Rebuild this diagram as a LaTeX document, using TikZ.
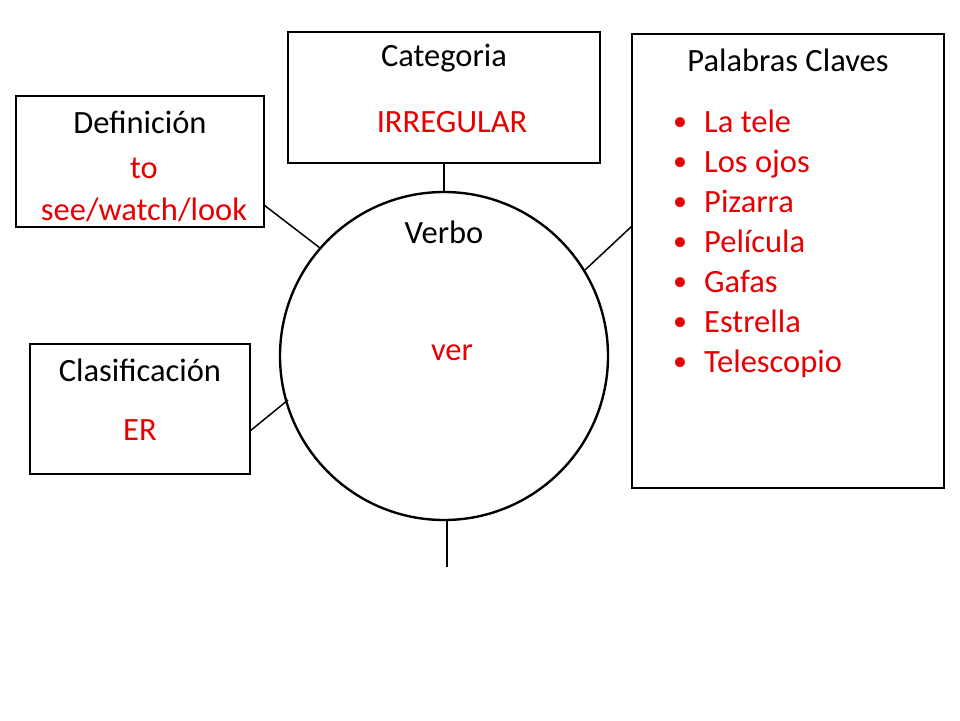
\documentclass[tikz,border=0pt]{standalone}
\usepackage{fontspec}
\setmainfont{Carlito}
\definecolor{txtred}{RGB}{230,0,0}
\begin{document}
\begin{tikzpicture}[x=1pt,y=-1pt,
  box/.style={draw,line width=1.2pt},
  lbl/.style={font=\fontsize{32.5}{38}\selectfont,anchor=center},
  red/.style={lbl,text=txtred},
  conn/.style={line width=1.5pt}]
\useasboundingbox (0,0) rectangle (960,720);
\draw[box] (288,32) rectangle (600,163);
\draw[box] (16,96) rectangle (264,227);
\draw[box] (30,344) rectangle (250,474);
\draw[box] (632,34) rectangle (944,488);
\node[draw,circle,line width=2.4pt,minimum size=328pt,inner sep=0pt] (c) at (444,356) {};
\node[lbl] (t1) at (444,58) {Categoria};
\node[red] (r1) at (452,122) {IRREGULAR};
\node[lbl] (t2) at (140,122) {Definición};
\node[red,align=center,font=\fontsize{32.5}{42}\selectfont] (r2) at (144,190) {to\\see/watch/look};
\node[lbl] (t3) at (140,370) {Clasificación};
\node[red] (r3) at (140,430) {ER};
\node[lbl] (t4) at (788,60) {Palabras Claves};
\node[lbl] (t5) at (444,232) {Verbo};
\node[red] (r5) at (452,353) {ver};
\foreach \w [count=\i] in {La tele,Los ojos,Pizarra,Película,Gafas,Estrella,Telescopio}{
  \node[red,anchor=base west,inner sep=0pt] (k\i) at (704,132+40*\i-40) {\w};
  \node[text=txtred,font=\fontsize{28}{34}\selectfont,anchor=base,inner sep=0pt] (b\i) at (680,130+40*\i-40) {•};
}
\coordinate (a1) at (444,163); \coordinate (a2) at (444,192);
\coordinate (d1) at (264,205); \coordinate (d2) at (320,248);
\coordinate (e1) at (250,431); \coordinate (e2) at (288,400);
\coordinate (p1) at (632,226); \coordinate (p2) at (585,270);
\coordinate (s1) at (447,520); \coordinate (s2) at (447,567);
\draw[conn] (a1)--(a2); \draw[conn] (d1)--(d2); \draw[conn] (e1)--(e2);
\draw[conn] (p1)--(p2); \draw[conn] (s1)--(s2);
\end{tikzpicture}
\end{document}
